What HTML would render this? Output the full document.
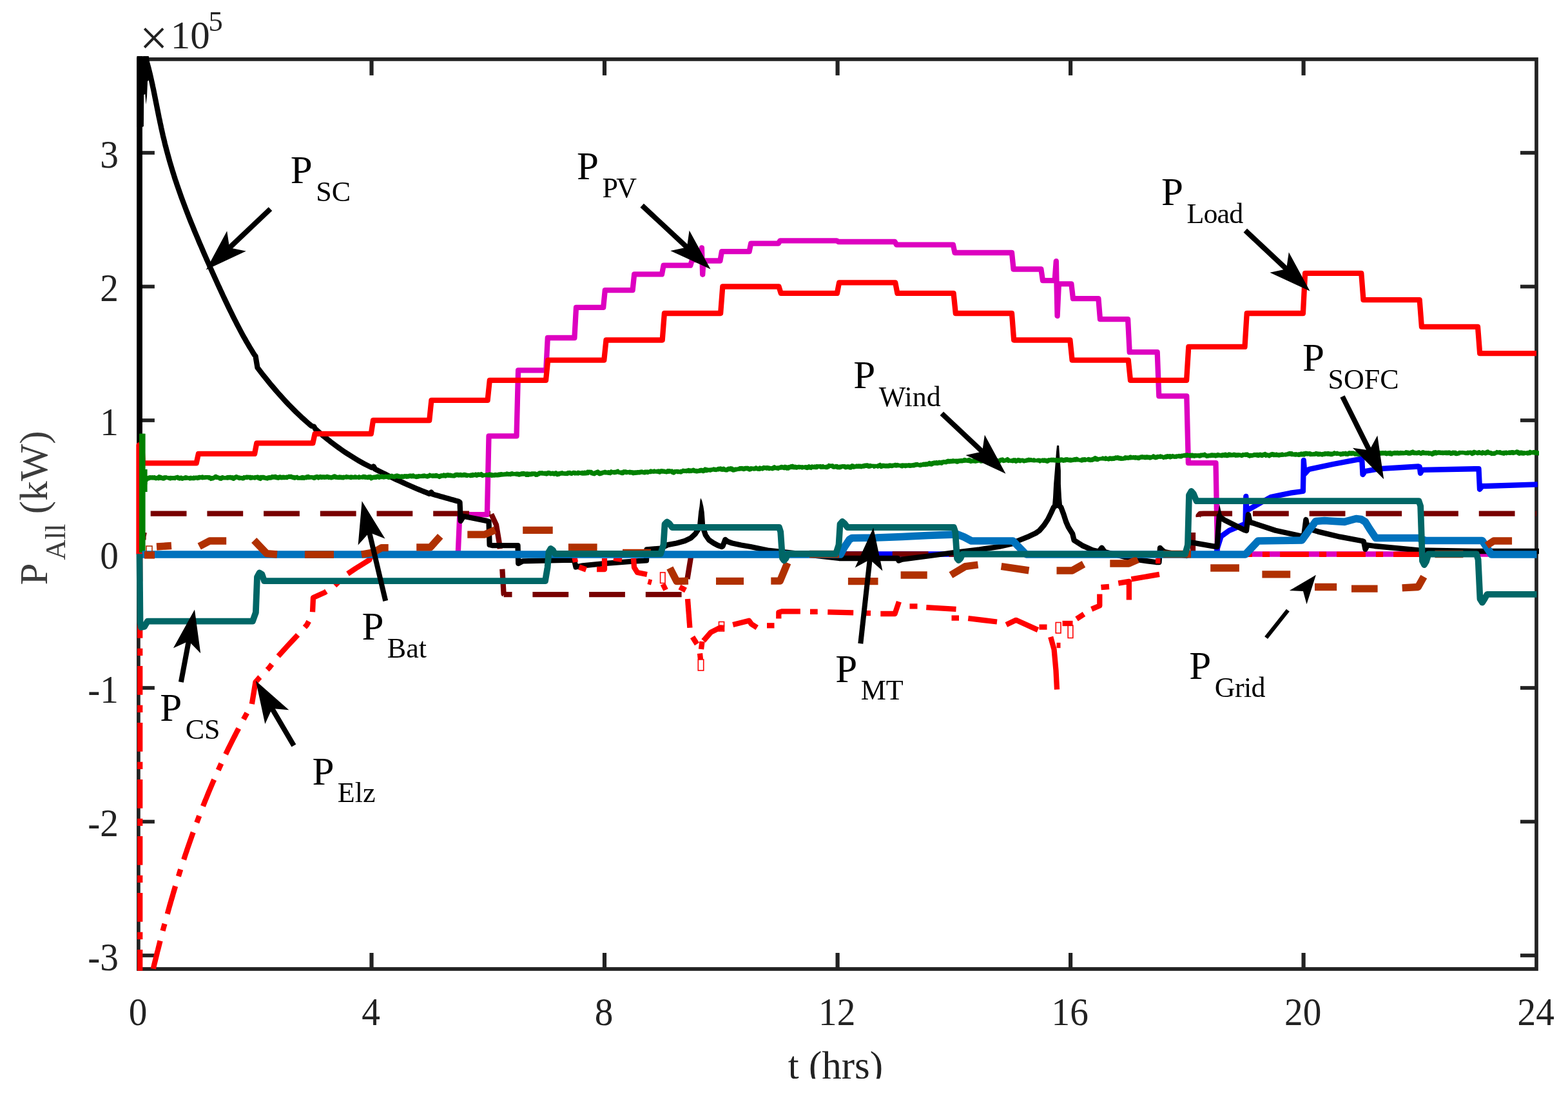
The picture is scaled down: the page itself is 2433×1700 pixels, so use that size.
<!DOCTYPE html>
<html><head><meta charset="utf-8"><title>Power plot</title>
<style>
html,body{margin:0;padding:0;background:#fff;}
body{width:2433px;height:1700px;overflow:hidden;}
svg{display:block;}
svg text{font-family:"Liberation Serif","Times New Roman",serif;}
</style></head><body>
<svg width="2433" height="1700" viewBox="0 0 2433 1700">
<rect width="2433" height="1700" fill="#fff"/>
<g id="axes">
<rect x="214.9" y="91.9" width="2169.1" height="1411.1" fill="none" stroke="#222222" stroke-width="5.7"/>
<line x1="576.5" y1="1503.0" x2="576.5" y2="1478.0" stroke="#222222" stroke-width="6.2"/>
<line x1="576.5" y1="91.9" x2="576.5" y2="116.9" stroke="#222222" stroke-width="6.2"/>
<line x1="938.0" y1="1503.0" x2="938.0" y2="1478.0" stroke="#222222" stroke-width="6.2"/>
<line x1="938.0" y1="91.9" x2="938.0" y2="116.9" stroke="#222222" stroke-width="6.2"/>
<line x1="1299.6" y1="1503.0" x2="1299.6" y2="1478.0" stroke="#222222" stroke-width="6.2"/>
<line x1="1299.6" y1="91.9" x2="1299.6" y2="116.9" stroke="#222222" stroke-width="6.2"/>
<line x1="1661.1" y1="1503.0" x2="1661.1" y2="1478.0" stroke="#222222" stroke-width="6.2"/>
<line x1="1661.1" y1="91.9" x2="1661.1" y2="116.9" stroke="#222222" stroke-width="6.2"/>
<line x1="2022.6" y1="1503.0" x2="2022.6" y2="1478.0" stroke="#222222" stroke-width="6.2"/>
<line x1="2022.6" y1="91.9" x2="2022.6" y2="116.9" stroke="#222222" stroke-width="6.2"/>
<line x1="214.9" y1="1482.0" x2="239.9" y2="1482.0" stroke="#222222" stroke-width="5.7"/>
<line x1="2384.0" y1="1482.0" x2="2359.0" y2="1482.0" stroke="#222222" stroke-width="5.7"/>
<line x1="214.9" y1="1274.5" x2="239.9" y2="1274.5" stroke="#222222" stroke-width="5.7"/>
<line x1="2384.0" y1="1274.5" x2="2359.0" y2="1274.5" stroke="#222222" stroke-width="5.7"/>
<line x1="214.9" y1="1067.0" x2="239.9" y2="1067.0" stroke="#222222" stroke-width="5.7"/>
<line x1="2384.0" y1="1067.0" x2="2359.0" y2="1067.0" stroke="#222222" stroke-width="5.7"/>
<line x1="214.9" y1="859.5" x2="239.9" y2="859.5" stroke="#222222" stroke-width="5.7"/>
<line x1="2384.0" y1="859.5" x2="2359.0" y2="859.5" stroke="#222222" stroke-width="5.7"/>
<line x1="214.9" y1="652.0" x2="239.9" y2="652.0" stroke="#222222" stroke-width="5.7"/>
<line x1="2384.0" y1="652.0" x2="2359.0" y2="652.0" stroke="#222222" stroke-width="5.7"/>
<line x1="214.9" y1="444.5" x2="239.9" y2="444.5" stroke="#222222" stroke-width="5.7"/>
<line x1="2384.0" y1="444.5" x2="2359.0" y2="444.5" stroke="#222222" stroke-width="5.7"/>
<line x1="214.9" y1="237.0" x2="239.9" y2="237.0" stroke="#222222" stroke-width="5.7"/>
<line x1="2384.0" y1="237.0" x2="2359.0" y2="237.0" stroke="#222222" stroke-width="5.7"/>
</g>
<clipPath id="c"><rect x="209" y="87.2" width="2179" height="1418.6"/></clipPath>
<clipPath id="cx"><rect x="0" y="1500" width="2433" height="173.3"/></clipPath>
<g id="curves" clip-path="url(#c)">
<path d="M214.9 859.5L710.7 859.5L713.3 798.1L755.9 798.1L758.5 676.3L801.5 676.3L804.1 574.4L847.2 574.4L849.8 524.0L891.4 524.0L894.0 476.9L936.2 476.9L938.8 450.1L981.6 450.1L984.2 425.4L1027.0 425.4L1029.6 411.7L1071.3 411.7L1073.9 403.0L1087.1 403.0L1088.9 384.3L1090.2 425.8L1091.6 404.5L1117.4 404.5L1120.0 390.1L1162.6 390.1L1165.2 377.7L1207.8 377.7L1210.4 373.3L1298.2 373.3L1300.8 375.0L1388.5 375.0L1391.1 379.6L1478.9 379.6L1481.5 392.0L1570.0 392.0L1572.6 417.5L1615.4 417.5L1618.0 435.2L1636.6 435.2L1638.8 405.1L1640.6 490.1L1642.9 440.4L1662.4 440.4L1665.0 463.2L1704.4 463.2L1707.0 495.1L1750.1 495.1L1752.7 546.2L1795.7 546.2L1798.3 614.4L1841.3 614.4L1843.9 718.2L1886.5 718.2L1889.1 859.5L2384.0 859.5" fill="none" stroke="#dd00c0" stroke-width="8.3" stroke-linejoin="round"/>
<path d="M218.9 859.5L1887.0 859.5L1889.0 850.0L1894.8 831.8L1907.4 822.8L1928.9 813.9L1932.5 812.0L1933.3 770.0L1934.5 792.0L1943.2 787.1L1971.8 771.0L2002.2 764.7L2021.9 762.0L2022.8 714.0L2024.5 735.0L2030.9 728.0L2068.4 720.0L2111.4 711.9L2113.2 712.0L2114.5 736.0L2118.0 731.0L2140.0 727.1L2200.9 723.5L2202.7 724.0L2204.0 734.0L2206.9 728.9L2294.5 727.1L2296.0 759.0L2300.0 754.0L2305.3 754.0L2385.8 751.3" fill="none" stroke="#0000ff" stroke-width="8.3" stroke-linejoin="round"/>
<path d="M222.0 859.5L222.5 832.0L224.5 822.0" fill="none" stroke="#780000" stroke-width="8.3" stroke-linejoin="round" stroke-dasharray="12 30" stroke-dashoffset="-22.0"/>
<path d="M233.7 796.6L761.0 796.6" fill="none" stroke="#780000" stroke-width="8.3" stroke-linejoin="round" stroke-dasharray="55.8 31.9"/>
<path d="M762.3 797.5L770.0 814.0L774.5 840.7L779.0 877.4L781.6 921.3L782.5 922.2" fill="none" stroke="#780000" stroke-width="8.3" stroke-linejoin="round" stroke-dasharray="55.8 31.9"/>
<path d="M781.6 922.2L1063.0 922.2" fill="none" stroke="#780000" stroke-width="8.3" stroke-linejoin="round" stroke-dasharray="55.8 31.9" stroke-dashoffset="42.9"/>
<path d="M1066.5 898.0L1072.0 864.0L1075.0 859.5" fill="none" stroke="#780000" stroke-width="8.3" stroke-linejoin="round"/>
<path d="M1075.0 859.5L1851.0 859.5" fill="none" stroke="#780000" stroke-width="8.3" stroke-linejoin="round" stroke-dasharray="55.8 31.9" stroke-dashoffset="41.1"/>
<path d="M1851.0 859.5L1851.0 826.0" fill="none" stroke="#780000" stroke-width="8.3" stroke-linejoin="round"/>
<path d="M1860.0 806.0L1859.5 800.0L1862.0 797.0L1868.0 796.6L2384.0 796.6" fill="none" stroke="#780000" stroke-width="8.3" stroke-linejoin="round" stroke-dasharray="55.8 31.9" stroke-dashoffset="-4.2"/>
<path d="M216.8 859.5L216.8 60.0L223.0 60.0L227.3 94.4L228.5 98.4L229.6 102.4L230.7 106.4L231.7 110.4L232.7 114.4L233.6 118.4L234.5 122.4L235.4 126.4L236.3 130.4L237.1 134.4L238.0 138.4L238.8 142.4L239.6 146.4L240.4 150.4L241.2 154.4L242.0 158.4L242.8 162.4L243.6 166.4L244.4 170.4L245.2 174.4L246.0 178.4L246.8 182.4L247.7 186.4L248.5 190.4L249.4 194.4L250.2 198.4L251.1 202.4L252.0 206.4L252.9 210.4L253.9 214.4L254.9 218.4L255.8 222.4L256.8 226.4L257.9 230.4L258.9 234.4L260.0 238.4L261.1 242.4L262.2 246.4L263.3 250.4L264.5 254.4L265.7 258.4L266.9 262.4L268.1 266.4L269.4 270.4L270.6 274.4L271.9 278.4L273.3 282.4L274.6 286.4L276.0 290.4L277.4 294.4L278.8 298.4L280.2 302.4L281.6 306.4L283.1 310.4L284.6 314.4L286.1 318.4L287.6 322.4L289.1 326.4L290.7 330.4L292.2 334.4L293.8 338.4L295.4 342.4L297.0 346.4L298.7 350.4L300.3 354.4L301.9 358.4L303.6 362.4L305.3 366.4L307.0 370.4L308.6 374.4L310.3 378.4L312.1 382.4L313.8 386.4L315.5 390.4L317.2 394.4L319.0 398.4L320.7 402.4L322.5 406.4L324.3 410.4L326.0 414.4L327.8 418.4L329.6 422.4L331.4 426.4L333.2 430.4L335.0 434.4L336.8 438.4L338.6 442.4L340.5 446.4L342.3 450.4L344.2 454.4L346.0 458.4L347.9 462.4L349.8 466.4L351.7 470.4L353.6 474.4L355.5 478.4L357.5 482.4L359.5 486.4L361.4 490.4L363.4 494.4L365.5 498.4L367.5 502.4L369.6 506.4L371.7 510.4L373.8 514.4L376.0 518.4L378.2 522.4L380.5 526.4L382.7 530.4L385.1 534.4L387.4 538.4L389.9 542.4L392.3 546.4L394.9 550.4L396.5 552.5L399.5 570.3L403.5 575.5L407.5 580.7L411.5 585.7L415.5 590.7L419.5 595.6L423.5 600.3L427.5 605.0L431.5 609.6L435.5 614.1L439.5 618.5L443.5 622.8L447.5 627.1L451.5 631.2L455.5 635.2L459.5 639.2L463.5 643.0L467.5 646.8L471.5 650.4L475.5 654.0L479.5 657.5L483.5 660.8L487.0 661.5L489.0 665.1L493.0 668.7L497.0 672.1L501.0 675.5L505.0 678.8L509.0 682.0L513.0 685.2L517.0 688.2L521.0 691.2L525.0 694.1L529.0 697.0L533.0 699.8L537.0 702.5L541.0 705.1L545.0 707.6L549.0 710.1L553.0 712.5L557.0 714.8L561.0 717.1L565.0 719.3L569.0 721.4L573.0 723.4L577.0 725.4L579.6 723.5L582.0 727.5L586.0 729.6L590.0 731.6L594.0 733.7L598.0 735.6L602.0 737.6L606.0 739.6L610.0 741.5L614.0 743.4L618.0 745.2L622.0 747.1L626.0 748.9L630.0 750.7L634.0 752.5L638.0 754.2L642.0 756.0L646.0 757.7L650.0 759.3L654.0 761.0L658.0 762.6L662.0 764.2L666.0 765.8L669.1 763.5L671.5 766.6L675.5 767.7L679.5 768.8L683.5 770.0L687.5 771.1L691.5 772.2L695.5 773.3L699.5 774.5L703.5 775.6L707.5 776.7L711.5 777.8L713.5 779.0L714.7 808.0L719.2 800.7L755.0 807.9L758.5 809.0L759.6 845.0L764.6 846.1L803.5 846.1L804.2 874.0L811.2 870.3L886.3 868.5L891.0 869.0L893.5 879.5L904.2 877.4L940.0 873.9L975.8 871.2L1003.0 869.4L1003.5 852.4L1025.0 850.6L1035.8 845.2L1050.0 842.5L1062.6 839.0L1072.0 834.5L1078.7 828.2L1083.5 821.0L1088.0 817.0L1092.0 821.5L1094.8 830.0L1100.0 837.5L1107.4 842.5L1114.0 846.0L1120.0 848.0L1121.5 847.0L1125.3 837.0L1129.0 840.0L1136.0 842.5L1150.0 845.5L1164.6 848.0L1193.3 854.0L1250.0 860.0L1302.0 866.0L1393.0 866.0L1394.5 869.5L1400.0 867.6L1440.0 862.5L1480.5 857.0L1520.0 852.3L1550.0 848.0L1570.0 843.5L1579.0 839.0L1596.9 831.8L1607.0 827.0L1613.0 822.8L1620.1 814.5L1626.0 805.5L1630.9 795.5L1634.8 787.0L1640.6 782.0L1646.4 787.0L1650.5 798.0L1654.0 809.0L1657.7 817.5L1664.2 828.0L1666.6 838.0L1679.2 846.1L1695.3 853.3L1705.0 855.5L1709.6 849.7L1714.0 856.0L1745.7 864.0L1766.9 868.5L1793.7 872.0L1798.5 872.0L1800.0 850.0L1803.0 853.0L1807.0 856.0L1830.0 860.5L1841.0 862.0L1843.0 842.0L1850.1 841.6L1885.9 847.9L1888.5 848.0L1891.8 800.0L1894.5 803.0L1900.2 806.7L1930.6 822.0L1934.0 823.0L1936.9 798.0L1939.5 810.0L1946.7 812.1L1979.0 822.8L2020.1 831.8L2023.0 832.0L2026.4 806.0L2029.0 819.0L2033.0 821.0L2045.2 824.6L2079.2 832.7L2113.2 839.0L2116.0 840.0L2118.5 852.0L2122.0 845.5L2132.9 847.0L2200.9 853.3L2293.6 855.0L2388.0 855.0" fill="none" stroke="#000" stroke-width="8.3" stroke-linejoin="round"/>
<polygon points="212.5,86.8 218.0,85.8 221.0,87.0 224.5,85.8 230.8,87.3 231.6,94.4 233.0,112.0 236.0,120.0 229.0,126.0 228.0,150.0 226.4,162.0 225.2,146.0 223.3,147.0 222.9,196.0 221.0,197.0 216.0,197.0 212.5,197.0" fill="#000"/>
<polygon points="1081.8,818.0 1082.3,812.0 1083.2,803.0 1084.1,794.0 1085.5,785.3 1086.4,776.3 1087.2,772.4 1089.1,776.3 1091.3,785.3 1092.7,794.2 1093.4,803.2 1094.0,812.1 1094.5,818.0" fill="#000"/>
<polygon points="1632.8,786.0 1634.0,771.7 1635.1,750.8 1636.8,729.8 1638.9,701.9 1640.0,691.1 1643.1,691.1 1643.8,701.9 1645.9,729.8 1645.9,750.8 1647.0,771.7 1648.3,786.0" fill="#000"/>
<polygon points="1887.0,812.0 1892.2,782.5 1897.5,806.0" fill="#000"/>
<polygon points="1932.0,820.0 1936.9,795.0 1942.0,812.0" fill="#000"/>
<polygon points="2021.5,828.0 2026.4,803.0 2031.5,820.0" fill="#000"/>
<path d="M215.5 859.5L215.5 690.4L220.0 690.4L222.0 718.4L304.7 718.4L307.9 703.9L395.1 703.9L398.3 687.3L485.4 687.3L488.6 672.8L575.8 672.8L579.0 652.0L666.2 652.0L669.4 620.9L756.6 620.9L759.8 589.8L847.0 589.8L850.2 558.6L937.3 558.6L940.5 527.5L1027.7 527.5L1030.9 486.0L1118.1 486.0L1121.3 444.5L1208.5 444.5L1211.7 454.9L1298.9 454.9L1302.1 438.3L1389.2 438.3L1392.4 454.9L1479.6 454.9L1482.8 486.0L1570.0 486.0L1573.2 527.5L1660.4 527.5L1663.6 558.6L1750.8 558.6L1754.0 589.8L1841.1 589.8L1844.3 537.9L1931.5 537.9L1934.7 486.0L2021.9 486.0L2025.1 423.8L2112.3 423.8L2115.5 465.2L2202.7 465.2L2205.9 506.8L2293.0 506.8L2296.2 548.2L2384.0 548.2" fill="none" stroke="#ff0000" stroke-width="8.3" stroke-linejoin="round"/>
<path d="M220.5 859.5L220.5 672.8L221.0 753.6L221.6 759.5L222.2 739.2L222.8 758.0L223.4 742.9L224.0 746.6L224.6 751.2L225.2 742.6L225.8 746.5L226.4 742.2L227.0 741.8L228.1 741.6L229.6 741.9L230.9 741.8L232.5 740.6L234.0 741.0L234.9 741.8L235.8 740.8L236.7 740.8L237.6 742.9L238.9 740.8L240.1 740.7L241.0 741.9L242.3 741.6L243.5 740.9L244.6 742.4L245.7 741.7L246.7 740.0L247.9 739.5L249.3 741.0L250.3 741.8L251.5 741.2L252.9 741.9L253.7 742.1L255.1 741.4L256.6 740.1L257.6 740.9L258.9 740.1L260.0 742.4L261.2 739.4L262.5 742.6L263.9 741.8L265.5 741.6L266.6 740.6L267.9 742.2L268.8 741.4L269.7 742.7L270.6 741.8L271.6 739.8L272.5 742.4L273.7 739.4L275.1 740.6L276.6 741.0L277.7 742.1L279.2 741.7L280.1 741.1L281.1 741.3L282.4 742.2L283.4 742.1L284.5 741.2L285.7 742.5L287.0 740.8L288.3 741.0L289.8 740.9L291.2 742.3L292.3 740.0L293.4 742.2L294.3 741.9L295.1 741.3L296.2 741.6L297.0 741.6L297.9 741.1L299.0 742.9L300.3 741.4L301.2 741.1L302.3 741.9L303.2 742.7L304.4 738.8L305.6 741.4L306.7 741.3L307.7 741.3L308.5 740.6L310.0 740.6L311.3 741.0L312.1 738.6L313.6 740.6L315.0 741.0L315.9 741.9L317.3 739.5L318.4 740.7L319.3 742.0L320.8 738.6L322.3 741.6L323.3 739.7L324.5 740.9L325.3 741.2L326.3 740.9L327.9 742.4L329.0 743.5L330.6 740.0L331.7 741.1L332.6 741.6L333.6 739.6L335.1 739.6L336.3 740.0L337.1 739.6L338.5 742.3L339.9 740.1L341.0 741.6L342.1 742.4L343.6 741.8L344.7 740.8L346.2 740.8L347.1 740.4L348.1 742.3L349.0 740.0L350.4 742.2L351.5 740.7L352.8 741.0L354.3 741.0L355.6 738.8L356.8 740.5L358.3 741.2L359.3 740.3L360.3 740.9L361.3 742.1L362.5 742.2L363.6 742.3L364.7 739.2L365.9 739.9L367.4 739.7L368.6 740.8L369.4 740.3L370.2 741.0L371.7 741.3L373.0 741.7L374.3 740.3L375.5 741.8L377.0 741.7L378.0 741.5L379.0 740.9L380.2 739.7L381.6 741.6L382.9 740.3L384.1 739.4L385.3 740.7L386.5 738.6L387.9 741.0L389.4 741.4L390.6 740.5L392.2 741.0L393.1 740.3L394.2 741.3L395.1 741.0L396.4 741.1L397.4 738.8L398.7 740.4L400.2 740.3L401.8 741.1L402.9 742.9L404.1 742.4L405.0 740.6L406.2 739.9L407.1 740.6L408.2 740.6L409.4 740.5L410.6 741.5L411.9 740.7L413.1 743.0L414.5 741.7L416.1 741.2L416.9 741.1L418.4 740.6L419.5 741.1L421.0 740.9L422.0 740.0L423.5 739.3L424.4 740.0L425.2 740.2L426.1 739.7L427.6 739.5L428.5 739.4L430.0 742.2L431.1 741.3L432.2 738.6L433.2 739.9L434.1 739.9L435.0 740.4L435.9 741.1L437.0 740.7L438.0 740.6L439.2 739.8L440.2 740.4L441.2 740.7L442.0 740.4L442.9 739.4L444.1 740.9L445.6 740.3L446.7 738.8L447.8 740.6L449.0 739.5L450.1 738.1L451.6 740.1L452.7 739.3L453.8 740.9L454.6 740.6L456.0 740.5L456.9 741.0L458.4 741.4L459.4 739.5L460.4 740.2L461.3 741.4L462.5 740.3L464.1 742.7L465.3 740.5L466.3 742.8L467.4 741.3L468.6 740.4L469.8 740.7L470.6 741.4L471.6 741.2L472.5 740.9L473.3 740.2L474.5 741.0L475.8 740.4L477.1 739.1L478.6 739.8L480.2 740.9L481.1 740.2L482.0 739.1L483.5 741.3L484.8 739.6L486.3 741.1L487.5 741.2L489.0 740.9L490.2 738.7L491.7 739.8L492.7 739.1L493.5 740.9L494.4 740.9L495.9 739.1L497.2 739.8L498.5 740.2L500.0 740.3L501.4 739.2L502.7 740.3L503.6 740.2L504.4 739.6L505.4 740.2L506.8 739.7L508.4 739.4L509.6 740.3L510.9 740.4L512.3 739.0L513.1 740.7L514.5 740.8L515.6 740.1L516.4 740.2L517.4 739.6L518.8 739.0L519.8 739.2L521.0 740.1L521.9 740.7L523.4 739.8L525.0 741.2L526.4 740.3L528.0 739.5L529.0 740.4L530.5 740.5L531.5 741.3L532.7 740.6L534.1 740.0L535.3 741.2L536.3 739.2L537.8 739.9L538.6 740.2L539.8 739.4L540.8 740.4L541.8 739.4L542.6 741.7L544.0 740.4L545.6 739.7L546.9 740.7L548.0 739.7L549.2 741.3L550.2 740.1L551.4 740.0L552.3 740.4L553.7 739.6L554.7 742.1L555.7 739.5L556.8 740.0L558.4 741.3L559.7 739.0L561.2 741.1L562.6 739.6L563.5 739.9L564.9 739.0L566.2 740.0L567.7 740.3L568.6 739.2L569.7 740.2L571.0 740.7L572.4 739.9L573.4 739.1L574.3 739.7L575.3 740.5L576.5 741.9L577.5 742.5L578.6 738.3L579.5 740.1L580.6 740.3L581.5 739.9L582.7 740.5L584.2 739.8L585.4 738.9L586.6 739.2L587.4 740.3L588.5 740.2L589.7 739.6L591.0 740.1L592.0 739.2L593.0 738.9L594.5 740.2L596.0 739.7L596.8 739.4L598.2 740.4L599.5 738.9L600.3 737.9L601.7 740.8L603.2 740.1L604.1 739.3L605.0 738.1L606.6 739.2L608.0 738.4L609.1 738.1L610.4 740.8L611.4 739.7L612.9 738.8L613.8 738.6L614.8 738.3L615.7 738.1L616.5 738.0L617.7 739.0L618.6 739.0L619.7 739.0L620.8 740.3L622.4 738.7L623.5 739.1L625.1 739.7L626.5 738.9L627.7 739.1L629.0 738.3L630.3 739.2L631.9 738.9L633.0 739.1L634.1 738.6L635.5 738.3L636.9 738.2L638.5 738.7L639.5 739.0L640.5 738.1L641.9 738.1L643.1 740.8L644.1 738.8L645.4 739.5L647.0 739.1L647.9 739.3L649.5 738.7L650.4 738.7L651.5 740.0L652.9 737.3L654.5 739.2L655.4 738.1L657.0 738.4L658.3 738.1L659.4 737.8L660.3 738.9L661.1 738.1L662.7 739.1L663.6 738.8L664.7 738.1L666.1 738.6L667.0 737.3L668.2 736.7L669.1 739.6L670.2 738.3L671.3 738.0L672.8 738.1L673.6 737.8L674.5 738.6L675.9 737.7L677.4 737.6L678.9 738.5L680.2 737.8L681.3 739.3L682.3 739.4L683.8 737.9L685.1 738.0L686.1 737.7L687.3 739.9L688.4 737.2L689.4 736.8L691.0 738.1L691.9 738.2L693.4 736.3L694.8 737.0L695.8 737.1L696.9 737.7L697.9 737.2L699.3 737.5L700.1 737.8L701.4 736.3L702.9 739.7L704.5 737.4L705.3 737.8L706.5 737.1L707.5 736.4L708.7 736.4L710.1 736.4L711.5 737.1L713.0 736.9L714.0 736.4L715.4 736.9L716.4 737.2L717.3 737.9L718.8 736.4L719.9 736.7L721.5 736.4L723.0 737.0L724.3 737.5L725.5 737.0L726.9 738.1L727.8 735.3L728.8 737.4L730.4 737.3L731.6 737.7L733.1 736.5L734.3 736.7L735.9 738.4L736.7 735.8L737.7 736.1L738.8 737.1L739.8 737.2L741.1 736.4L741.9 736.2L743.0 736.4L744.0 736.1L745.0 736.9L745.8 735.5L746.7 735.7L748.0 737.3L748.9 737.3L750.0 737.7L751.0 735.7L752.1 738.6L753.4 735.9L754.8 737.2L756.4 736.0L757.8 736.8L758.8 738.3L759.9 736.4L761.4 734.8L762.6 737.3L763.5 737.4L764.8 736.3L766.3 737.3L767.4 736.8L768.6 736.6L769.8 736.7L771.4 736.9L772.8 736.7L774.4 736.2L775.9 736.5L777.5 735.7L779.1 736.0L780.2 737.0L781.6 735.2L782.6 736.0L783.7 735.2L785.2 736.1L786.1 735.3L787.3 734.9L788.2 735.7L789.2 735.4L790.0 733.8L791.2 735.7L792.7 735.4L793.6 734.7L794.9 735.0L796.0 734.6L797.1 736.2L798.4 734.6L799.2 735.9L800.5 734.9L801.9 735.5L803.4 734.9L804.5 735.6L805.4 736.1L806.3 736.1L807.5 735.1L808.8 735.3L809.6 735.2L810.8 733.8L811.7 734.4L813.3 735.2L814.2 737.1L815.5 732.9L817.0 736.1L818.2 737.6L819.8 735.6L821.2 734.8L822.7 735.8L824.1 735.4L825.1 735.6L826.5 734.6L827.4 733.0L828.4 734.9L829.4 734.2L830.2 734.9L831.2 736.0L832.5 736.7L834.0 735.6L834.9 736.2L836.2 734.3L837.7 734.1L838.9 733.1L839.8 733.8L841.4 734.1L842.8 734.0L843.8 735.8L844.9 734.6L846.3 734.1L847.7 734.8L848.6 734.9L849.9 733.9L851.5 733.4L852.5 733.8L853.3 735.0L854.6 734.6L855.8 732.5L856.7 734.3L857.6 734.3L858.4 734.3L859.5 735.1L860.5 734.9L861.8 733.8L863.1 734.0L864.3 735.7L865.2 735.9L866.2 735.3L867.7 735.0L869.1 733.7L869.9 734.6L871.2 733.4L872.5 733.9L873.7 735.5L874.7 733.6L876.2 735.2L877.3 734.4L878.3 735.6L879.1 734.6L880.4 734.5L881.3 733.9L882.6 732.7L884.1 733.9L885.0 733.7L885.8 734.7L887.4 734.2L888.2 732.5L889.6 733.9L891.0 732.9L892.2 733.9L893.2 734.3L894.0 733.1L895.4 735.1L896.8 733.6L898.1 733.1L899.2 734.0L900.2 732.7L901.6 734.3L903.1 733.6L903.9 733.6L905.3 734.3L906.8 733.6L908.3 732.8L909.4 733.7L910.7 735.5L912.1 732.3L913.2 731.4L914.7 732.9L915.9 731.8L917.2 732.8L918.2 733.1L919.5 735.2L920.4 734.3L921.2 735.0L922.3 734.7L923.2 733.6L924.6 733.4L925.9 732.8L926.7 731.9L928.0 732.2L929.5 734.5L931.0 734.9L932.5 733.9L934.1 733.7L935.0 733.6L935.8 734.1L937.1 731.8L938.6 732.6L939.4 732.6L940.3 733.1L941.4 732.5L942.5 733.7L943.5 733.1L944.9 732.5L946.5 733.6L947.7 733.7L948.5 732.0L949.6 731.5L950.7 733.5L952.1 732.3L953.6 732.7L954.4 733.1L955.2 732.4L956.2 733.0L957.0 730.3L958.2 731.2L959.1 732.9L960.3 731.8L961.3 734.1L962.9 732.6L964.3 733.3L965.5 733.7L966.3 733.5L967.8 732.1L969.1 731.1L970.1 731.9L971.7 733.1L972.5 732.7L973.5 732.4L974.5 733.4L975.6 731.9L977.1 732.6L978.3 733.5L979.7 732.5L980.8 731.1L981.9 733.4L983.2 733.8L984.6 732.9L986.0 733.2L987.3 733.0L988.8 733.0L989.8 732.6L991.1 733.0L992.6 732.5L993.6 732.7L994.7 731.7L995.7 732.1L996.7 733.6L997.6 731.9L999.1 732.9L1000.7 732.7L1002.2 732.0L1003.1 731.1L1004.4 732.5L1005.5 732.4L1006.4 730.8L1007.7 733.0L1008.9 731.3L1009.8 731.2L1011.1 730.7L1012.6 732.8L1013.8 730.6L1014.9 731.2L1015.9 731.6L1017.3 730.0L1018.7 732.6L1020.0 730.7L1021.2 731.3L1022.0 732.9L1023.2 732.0L1024.5 730.3L1025.5 730.8L1026.8 732.2L1027.9 730.7L1028.9 729.8L1030.2 731.8L1031.4 730.7L1033.0 732.6L1033.9 731.7L1035.3 732.4L1036.2 731.0L1037.4 730.0L1038.7 730.9L1040.0 731.8L1041.1 730.3L1042.7 731.5L1043.8 732.5L1045.2 732.9L1046.3 732.8L1047.1 730.9L1047.9 731.9L1049.1 729.7L1050.1 731.6L1051.1 731.1L1052.7 732.3L1053.9 731.1L1055.0 732.3L1056.0 731.8L1057.5 731.8L1058.8 729.5L1059.7 730.8L1061.3 729.7L1062.8 731.5L1064.2 729.7L1065.5 730.5L1066.4 730.7L1067.8 729.5L1068.9 729.7L1070.0 730.7L1070.9 731.6L1072.0 730.2L1073.0 729.8L1074.1 731.0L1075.4 729.5L1077.0 729.2L1078.4 731.5L1080.0 730.4L1081.4 730.9L1082.7 731.1L1083.5 731.9L1084.8 729.8L1085.8 730.0L1086.8 729.9L1088.2 729.3L1089.8 729.9L1091.2 730.4L1092.5 731.0L1093.9 728.4L1095.3 727.6L1096.8 729.7L1098.0 730.5L1099.4 727.4L1100.7 729.8L1101.7 729.1L1102.9 729.5L1103.7 728.5L1104.9 729.1L1106.1 727.2L1106.9 728.4L1108.4 727.7L1109.7 729.0L1111.2 728.1L1112.8 729.3L1113.6 727.8L1114.5 727.6L1115.7 727.7L1116.8 726.6L1118.4 727.4L1119.9 728.4L1120.7 728.1L1121.8 727.1L1123.3 727.6L1124.5 729.0L1125.9 728.4L1127.1 729.1L1128.3 728.5L1129.8 727.4L1130.9 727.3L1132.1 728.0L1133.7 727.0L1134.8 726.6L1135.8 727.5L1137.1 728.9L1138.5 729.2L1140.1 728.1L1141.3 728.4L1142.1 727.9L1143.0 728.7L1144.4 727.0L1145.8 728.5L1147.1 726.8L1148.4 727.0L1149.7 726.2L1150.7 726.8L1152.1 726.4L1153.0 727.3L1154.4 727.4L1156.0 726.7L1157.4 726.4L1158.8 726.4L1159.9 726.7L1161.0 726.6L1162.3 727.8L1163.9 728.0L1164.7 727.2L1165.6 727.2L1167.1 725.6L1168.3 727.6L1169.6 726.7L1171.1 727.6L1172.3 726.4L1173.1 726.1L1174.1 726.0L1174.9 727.8L1175.8 726.5L1177.3 727.9L1178.2 727.3L1179.1 726.2L1180.4 725.6L1181.4 727.7L1182.8 726.7L1184.2 726.1L1185.6 725.7L1186.9 724.0L1187.9 726.5L1189.5 725.9L1190.3 725.8L1191.6 726.0L1192.7 725.5L1194.1 726.7L1195.2 727.3L1196.1 724.9L1197.2 726.5L1198.6 726.6L1199.7 726.9L1201.0 724.9L1202.1 724.8L1203.5 726.9L1204.8 724.9L1205.8 727.6L1207.2 726.2L1208.6 724.7L1210.2 726.3L1211.7 724.6L1212.8 724.7L1214.3 724.2L1215.6 726.1L1217.1 725.4L1217.9 724.4L1219.0 724.0L1220.4 725.6L1221.9 726.7L1223.4 725.5L1224.9 724.3L1226.3 724.6L1227.8 724.1L1228.9 723.1L1229.7 723.4L1230.7 724.3L1232.1 725.5L1233.4 724.6L1234.7 724.2L1235.7 724.9L1237.1 725.0L1238.0 723.8L1239.4 724.8L1240.7 724.1L1242.2 725.5L1243.4 723.9L1244.7 724.9L1245.6 725.2L1247.0 723.8L1248.1 725.5L1249.3 724.7L1250.9 724.8L1252.0 725.5L1253.4 725.3L1254.4 723.8L1255.6 724.0L1256.4 727.1L1257.9 725.0L1259.1 723.8L1260.5 724.1L1261.6 725.8L1263.1 723.8L1264.7 724.3L1265.6 724.5L1266.6 724.5L1267.8 724.4L1269.3 722.1L1270.8 724.8L1271.7 723.4L1272.6 723.6L1274.2 724.1L1275.5 725.3L1277.0 723.7L1278.2 723.3L1279.1 726.8L1280.1 723.4L1280.9 724.0L1282.5 724.8L1284.0 724.1L1285.4 723.7L1286.8 722.3L1287.6 721.8L1288.5 724.0L1289.9 721.7L1290.9 722.6L1291.8 723.0L1292.9 723.8L1294.0 724.3L1295.0 723.8L1296.3 724.3L1297.1 723.6L1298.0 723.2L1299.5 724.1L1301.0 725.8L1302.5 724.3L1303.4 724.4L1304.9 724.3L1306.1 722.5L1307.2 724.0L1308.5 722.6L1309.4 723.6L1310.7 723.8L1312.0 724.6L1313.0 724.9L1314.1 723.9L1315.6 724.0L1316.7 723.9L1317.7 724.3L1319.3 725.3L1320.1 725.0L1321.6 723.0L1322.8 722.8L1323.8 723.3L1324.9 723.9L1326.5 725.3L1327.4 723.2L1328.4 723.5L1329.8 723.0L1330.8 723.3L1332.3 723.1L1333.4 723.2L1334.8 723.2L1336.0 723.5L1337.6 724.0L1338.5 722.6L1339.5 722.8L1340.9 722.9L1341.8 722.4L1342.6 722.2L1343.7 722.3L1344.6 721.9L1346.1 722.0L1347.3 723.0L1348.7 723.2L1349.8 722.8L1351.3 722.5L1352.4 723.8L1353.6 721.3L1354.4 723.6L1355.9 722.2L1356.9 723.4L1358.0 724.3L1358.9 721.9L1359.7 723.6L1360.9 721.6L1361.8 723.0L1363.2 723.4L1364.3 721.0L1365.6 721.5L1366.5 723.6L1368.0 723.6L1369.2 722.2L1370.4 722.3L1372.0 722.4L1373.0 722.6L1374.0 722.8L1375.4 722.8L1376.8 722.5L1377.7 723.6L1379.0 722.5L1380.2 722.2L1381.7 721.9L1383.1 722.7L1384.3 722.4L1385.5 722.2L1386.6 722.7L1387.5 720.7L1388.4 721.2L1389.7 722.2L1391.1 721.6L1392.7 721.4L1394.2 722.7L1395.4 720.4L1396.8 723.4L1397.9 722.1L1399.0 722.8L1400.6 722.7L1402.1 720.1L1403.5 723.0L1405.1 722.3L1406.7 721.9L1408.0 722.8L1409.1 721.5L1410.2 721.8L1411.4 722.3L1413.0 721.9L1414.4 722.9L1415.8 721.2L1417.4 721.9L1418.7 721.4L1419.7 721.1L1420.9 720.7L1422.5 720.7L1423.7 720.6L1424.8 721.7L1425.9 720.6L1427.2 721.6L1428.7 721.4L1430.0 720.3L1431.2 721.3L1432.1 720.6L1433.1 720.5L1434.3 719.9L1435.1 720.6L1436.4 720.5L1437.6 718.7L1438.9 720.0L1440.1 720.8L1441.4 718.6L1442.4 718.6L1443.4 719.3L1444.5 720.1L1445.8 719.7L1447.3 718.8L1448.2 717.7L1449.3 718.2L1450.9 718.0L1451.8 719.8L1452.6 718.9L1453.5 717.5L1454.6 716.7L1455.5 718.5L1456.5 719.3L1457.4 717.4L1458.5 716.9L1459.8 718.6L1461.2 717.9L1462.6 716.3L1464.0 717.2L1465.5 716.0L1466.8 717.3L1468.3 716.5L1469.1 716.7L1470.3 715.3L1471.9 715.5L1473.3 715.8L1474.8 715.4L1476.0 715.4L1477.1 715.7L1478.3 715.0L1479.5 715.0L1480.9 716.0L1482.4 714.4L1483.4 715.2L1484.4 715.9L1485.7 715.9L1486.5 715.6L1488.0 714.4L1489.5 715.3L1490.6 714.5L1492.1 714.9L1493.4 714.7L1494.6 716.0L1495.8 713.9L1497.4 713.5L1498.8 714.5L1499.9 713.8L1501.0 715.5L1502.5 714.1L1503.4 713.6L1504.5 713.6L1505.8 715.2L1507.3 715.6L1508.4 714.3L1509.7 715.4L1510.9 714.5L1512.4 714.9L1514.0 715.2L1515.4 714.1L1517.0 714.5L1518.3 715.7L1519.8 712.0L1521.0 714.9L1522.2 715.1L1523.4 714.7L1524.7 715.0L1526.0 712.7L1527.3 716.7L1528.1 713.1L1529.1 715.3L1530.5 715.2L1532.0 714.4L1533.2 714.1L1534.4 713.9L1535.7 714.3L1536.9 715.7L1538.5 713.5L1539.4 713.9L1540.3 714.4L1541.2 713.9L1542.1 712.7L1543.4 714.1L1544.9 714.5L1546.3 714.4L1547.4 714.1L1548.3 713.5L1549.3 715.9L1550.6 715.4L1551.6 713.4L1552.5 714.6L1554.0 712.3L1555.2 713.1L1556.5 714.3L1558.0 714.5L1559.5 713.5L1560.9 716.0L1562.0 712.4L1563.2 712.8L1564.7 714.2L1566.1 715.1L1567.1 713.5L1568.3 715.9L1569.7 714.2L1570.8 714.7L1571.7 714.9L1573.0 714.0L1573.9 713.3L1575.0 714.0L1575.9 715.3L1576.9 715.3L1577.9 714.4L1578.9 714.8L1579.8 713.7L1580.7 713.4L1582.0 714.7L1583.5 714.5L1584.4 712.5L1585.9 714.7L1586.8 713.2L1587.9 715.2L1589.5 714.6L1590.7 716.2L1591.6 713.6L1593.0 714.2L1594.0 715.0L1595.1 713.3L1596.1 713.5L1597.6 713.6L1598.5 712.9L1599.5 713.9L1600.9 713.0L1602.2 714.9L1603.2 713.7L1604.2 714.2L1605.7 713.4L1606.5 715.2L1607.8 713.3L1608.8 714.8L1609.7 713.7L1610.6 714.5L1612.0 713.7L1613.5 714.8L1614.9 715.2L1615.8 712.7L1616.8 715.2L1618.2 714.1L1619.2 712.8L1620.6 714.6L1621.6 714.3L1622.9 713.2L1623.9 715.3L1625.2 715.2L1626.6 714.1L1627.5 713.9L1628.5 713.5L1629.3 714.7L1630.4 713.4L1631.8 713.4L1633.1 713.7L1634.3 713.1L1635.6 713.8L1637.1 713.8L1638.5 713.7L1640.0 714.0L1641.3 714.4L1642.1 713.9L1643.6 714.2L1645.0 715.7L1645.8 713.4L1647.2 712.9L1648.7 713.6L1650.3 714.1L1651.4 714.9L1652.8 713.1L1654.3 713.0L1655.1 713.0L1656.5 712.7L1658.0 714.1L1658.9 713.7L1660.3 713.4L1661.7 713.5L1663.3 714.7L1664.6 712.8L1665.4 713.3L1666.5 712.9L1667.6 713.7L1668.5 713.0L1669.5 712.0L1670.5 712.3L1672.0 713.1L1673.1 712.6L1674.0 714.9L1675.3 712.3L1676.5 714.5L1677.9 713.7L1679.2 714.1L1680.4 713.1L1681.3 711.2L1682.3 712.5L1683.1 713.3L1684.2 713.2L1685.3 714.1L1686.2 712.2L1687.3 713.6L1688.2 712.7L1689.8 712.6L1691.2 713.8L1692.8 713.2L1694.1 713.2L1695.2 713.0L1696.2 712.2L1697.7 712.2L1699.0 710.8L1700.3 710.7L1701.3 712.2L1702.2 712.6L1703.6 712.5L1704.5 711.4L1705.8 713.1L1706.8 710.2L1708.2 712.6L1709.3 710.6L1710.2 712.2L1711.3 711.1L1712.5 710.6L1713.5 712.9L1714.4 710.5L1715.8 711.1L1717.2 713.4L1718.4 710.3L1719.6 711.9L1720.8 712.1L1721.7 711.2L1722.9 710.9L1724.4 711.5L1725.6 711.4L1726.5 711.2L1728.0 711.1L1729.5 711.3L1730.5 710.2L1731.9 710.1L1732.9 710.9L1734.1 710.1L1735.6 709.4L1736.5 710.6L1737.8 711.7L1738.9 710.9L1739.9 711.1L1741.1 712.6L1742.6 710.3L1744.2 711.8L1745.6 710.2L1746.5 709.9L1747.5 709.3L1748.8 711.4L1750.1 710.1L1751.1 709.3L1751.9 711.8L1752.9 709.8L1753.8 709.3L1755.1 709.3L1756.2 711.0L1757.4 709.3L1758.3 709.7L1759.3 710.9L1760.2 709.3L1761.7 709.9L1762.9 710.3L1763.9 708.7L1764.9 709.9L1766.1 710.6L1767.4 710.4L1768.3 709.4L1769.4 709.8L1770.9 708.2L1772.3 709.1L1773.2 710.9L1774.1 709.4L1775.5 709.0L1777.1 709.7L1778.4 709.4L1779.8 708.8L1780.6 709.3L1781.4 710.1L1782.7 709.3L1784.1 709.8L1785.2 710.0L1786.7 708.2L1788.0 710.5L1788.9 708.0L1790.3 708.0L1791.6 710.1L1793.1 709.4L1794.5 709.3L1796.1 708.6L1797.3 708.4L1798.2 707.0L1799.1 708.1L1800.6 708.2L1801.6 707.8L1802.8 709.0L1803.6 707.4L1804.5 709.6L1805.4 709.4L1806.7 707.9L1807.8 709.6L1808.7 709.0L1810.0 707.4L1811.5 708.2L1812.5 708.0L1813.5 706.2L1814.9 708.0L1815.7 708.6L1817.1 709.4L1818.2 707.3L1819.7 707.9L1820.8 708.6L1821.6 706.8L1822.7 708.1L1824.0 709.5L1824.8 708.0L1826.0 708.3L1827.3 706.9L1828.1 708.0L1829.3 707.4L1830.5 707.6L1832.1 707.8L1833.4 707.4L1834.4 707.1L1835.4 708.3L1836.7 705.0L1838.3 706.7L1839.1 705.6L1840.6 706.5L1842.0 706.1L1843.1 706.0L1844.2 707.5L1845.7 705.2L1847.0 706.4L1848.4 708.3L1849.6 706.3L1850.9 706.2L1852.0 707.6L1853.1 707.1L1854.7 706.0L1855.7 706.9L1856.6 706.5L1857.5 707.2L1858.9 705.8L1860.2 707.0L1861.2 706.9L1862.3 707.0L1863.3 706.5L1864.9 705.6L1866.0 707.7L1866.8 706.1L1867.8 704.3L1868.8 705.4L1870.3 705.0L1871.1 707.4L1872.3 707.2L1873.3 706.2L1874.1 706.9L1875.5 707.2L1876.5 706.1L1877.8 706.9L1879.2 706.2L1880.6 706.0L1882.2 706.2L1883.6 706.2L1885.2 706.2L1886.1 706.8L1887.3 707.3L1888.9 705.5L1889.8 705.7L1891.2 707.7L1892.3 706.0L1893.1 705.6L1894.3 707.5L1895.3 706.7L1896.5 705.7L1897.7 705.9L1898.5 707.3L1900.1 705.7L1900.9 705.2L1902.0 705.3L1902.9 706.5L1904.3 706.6L1905.2 706.6L1906.4 705.3L1907.7 704.9L1908.9 705.7L1910.0 706.1L1911.4 705.4L1912.8 706.2L1914.2 705.3L1915.8 705.4L1917.0 706.2L1918.6 706.1L1919.7 706.1L1921.1 706.1L1922.7 705.1L1923.6 706.0L1924.5 705.6L1925.4 706.9L1926.6 706.3L1927.6 706.7L1928.5 705.6L1929.4 705.7L1930.4 703.8L1931.2 706.0L1932.8 705.2L1934.0 705.3L1935.4 705.2L1936.6 704.9L1937.5 707.5L1938.8 706.9L1940.0 706.3L1941.5 706.8L1942.6 706.1L1944.1 706.9L1945.1 705.3L1946.1 705.6L1947.1 706.6L1948.0 705.7L1949.1 704.3L1950.7 705.9L1951.6 706.7L1953.1 706.1L1954.5 705.0L1956.0 705.4L1957.1 706.3L1958.7 706.2L1959.9 706.7L1961.1 703.8L1962.1 704.6L1963.6 704.4L1965.1 706.6L1966.0 707.3L1967.0 703.2L1967.9 707.3L1968.7 707.0L1970.2 706.2L1971.1 706.5L1972.0 705.2L1973.1 705.0L1974.6 704.9L1976.2 703.5L1977.0 705.4L1978.4 706.8L1979.2 704.6L1980.4 705.2L1981.2 708.0L1982.3 705.6L1983.8 706.0L1984.7 705.9L1985.8 705.8L1986.8 706.4L1988.2 704.7L1989.2 705.1L1990.4 705.8L1991.4 704.7L1993.0 706.2L1994.0 704.1L1994.9 705.0L1995.8 705.4L1997.0 704.1L1998.1 705.6L1998.9 704.5L2000.1 703.8L2001.4 704.0L2002.9 702.6L2004.2 704.3L2005.4 705.4L2006.9 704.2L2008.1 705.5L2009.0 705.0L2010.3 704.9L2011.8 704.8L2012.9 706.1L2013.9 705.0L2015.4 705.2L2016.8 705.0L2018.2 704.6L2019.2 704.1L2020.3 703.8L2021.9 706.2L2023.3 704.7L2024.5 702.2L2025.5 703.1L2026.8 704.6L2028.2 703.8L2029.3 703.4L2030.7 704.4L2031.7 703.8L2032.7 703.8L2034.0 704.4L2035.2 706.5L2036.5 703.5L2037.5 704.4L2038.4 705.5L2039.7 704.0L2040.9 704.7L2041.8 703.8L2043.3 703.2L2044.7 704.7L2046.3 704.6L2047.4 704.2L2048.8 704.6L2049.7 703.9L2050.7 705.0L2052.2 704.8L2053.4 703.9L2054.5 704.4L2056.1 703.9L2057.3 703.3L2058.7 704.3L2060.1 703.7L2061.2 703.6L2062.3 704.1L2063.3 704.1L2064.3 704.3L2065.6 704.7L2066.9 704.3L2068.0 703.8L2069.4 704.7L2070.3 702.9L2071.3 702.7L2072.4 704.4L2073.5 702.9L2074.3 703.2L2075.7 704.3L2076.7 702.9L2078.2 704.7L2079.3 703.1L2080.8 704.7L2081.8 705.4L2082.9 703.7L2084.2 703.8L2085.6 704.2L2086.7 702.9L2088.2 703.7L2089.6 705.0L2090.8 704.0L2092.0 704.3L2093.1 703.0L2094.7 702.8L2095.9 704.2L2097.3 703.1L2098.4 702.4L2099.3 703.2L2100.7 702.7L2102.1 704.2L2103.0 704.1L2104.4 704.0L2105.8 703.9L2107.1 704.9L2108.5 704.1L2109.6 704.9L2110.8 704.1L2112.0 705.2L2113.5 703.5L2114.5 703.0L2115.3 704.5L2116.8 703.4L2117.9 704.2L2118.9 704.2L2120.1 702.6L2121.2 704.2L2122.7 703.7L2124.2 703.9L2125.1 702.9L2126.0 702.6L2127.2 703.2L2128.3 702.6L2129.8 702.9L2130.7 704.3L2131.6 702.8L2132.6 702.4L2133.9 703.1L2135.0 703.0L2136.0 704.9L2137.4 703.6L2138.5 702.1L2140.1 701.5L2140.9 703.8L2142.1 703.0L2143.5 703.0L2144.4 702.7L2145.9 702.8L2147.2 703.5L2148.5 702.1L2149.9 702.9L2151.3 703.7L2152.3 703.6L2153.1 702.8L2154.0 703.5L2155.1 700.9L2156.5 702.9L2157.8 705.0L2158.7 704.3L2159.6 703.5L2161.1 702.8L2162.3 703.6L2163.4 702.4L2164.9 702.7L2166.0 703.2L2167.4 702.4L2169.0 702.7L2170.1 703.0L2171.4 703.0L2172.3 703.9L2173.4 702.7L2174.8 701.8L2175.7 703.0L2177.2 702.3L2178.8 703.8L2179.8 702.3L2180.9 702.7L2182.5 701.6L2183.3 700.9L2184.6 702.8L2185.9 703.1L2186.9 702.9L2188.4 703.0L2189.9 702.1L2190.8 700.7L2191.8 701.2L2193.4 702.4L2194.5 702.3L2195.6 702.5L2196.6 704.0L2198.0 702.4L2199.2 702.8L2200.1 701.0L2201.4 701.9L2202.6 703.5L2203.4 702.6L2204.7 703.2L2205.8 703.3L2206.9 702.1L2207.9 702.0L2209.4 701.6L2210.9 703.9L2212.1 702.7L2213.6 702.7L2214.5 701.3L2215.4 702.4L2216.6 703.0L2217.8 703.4L2218.9 702.7L2219.8 703.3L2220.7 702.5L2221.9 704.2L2223.4 704.6L2224.6 702.6L2226.1 701.2L2227.1 701.8L2228.5 702.8L2229.3 703.0L2230.4 701.7L2231.9 702.3L2232.8 701.8L2234.0 702.1L2235.5 702.3L2236.5 702.1L2237.8 702.7L2239.0 702.4L2240.4 702.7L2241.8 701.7L2243.0 702.5L2244.6 702.4L2245.7 702.1L2246.7 702.6L2248.1 702.2L2249.2 702.0L2250.1 702.6L2251.1 703.0L2252.7 704.0L2253.9 702.4L2255.1 702.8L2256.5 700.5L2257.8 702.8L2259.3 703.6L2260.7 703.6L2261.8 703.2L2262.7 703.7L2264.1 702.1L2265.0 703.4L2266.6 700.6L2267.9 703.2L2269.2 701.0L2270.4 703.1L2271.9 701.0L2272.9 703.5L2274.5 702.2L2275.4 704.0L2276.4 702.1L2277.8 702.5L2279.0 703.0L2280.0 700.5L2281.3 702.5L2282.7 701.2L2284.1 703.4L2285.5 704.0L2286.6 701.8L2287.5 701.4L2288.5 701.0L2289.8 703.2L2290.6 701.1L2291.8 702.9L2293.3 702.5L2294.4 701.6L2295.5 701.8L2296.4 701.4L2297.7 703.8L2298.8 703.0L2300.1 702.8L2301.3 701.6L2302.2 701.0L2303.5 704.0L2304.5 702.9L2305.5 703.2L2306.5 702.2L2308.0 701.0L2309.1 701.2L2310.3 703.5L2311.9 702.1L2312.8 702.7L2314.1 702.0L2314.9 703.4L2316.0 704.4L2317.5 702.4L2318.4 703.3L2319.6 703.1L2320.7 701.6L2322.2 703.5L2323.1 701.6L2324.4 700.3L2325.5 703.2L2326.8 701.8L2328.0 701.8L2329.4 703.3L2330.5 701.8L2332.0 704.0L2333.4 703.0L2334.6 701.0L2336.2 702.9L2337.5 702.4L2338.6 702.2L2339.5 704.2L2340.4 701.9L2341.7 702.2L2342.8 702.3L2344.2 702.0L2345.6 701.9L2346.6 701.5L2348.2 702.2L2349.5 702.9L2350.7 701.2L2352.2 702.1L2353.2 701.1L2354.2 700.9L2355.6 701.7L2356.7 703.1L2358.2 703.3L2359.1 702.4L2360.2 701.9L2361.0 702.2L2362.6 703.3L2364.2 702.7L2365.7 703.1L2366.7 702.0L2367.6 703.3L2368.6 701.7L2370.1 703.0L2371.1 703.0L2372.3 704.3L2373.8 701.4L2374.8 701.2L2375.8 702.5L2377.0 701.4L2378.3 702.4L2379.4 701.7L2381.0 701.7L2382.3 702.3L2383.3 702.5L2384.7 702.2L2386.0 701.1L2387.0 704.1L2388.0 703.4" fill="none" stroke="#008000" stroke-width="7.500000000000001" stroke-linejoin="bevel"/>
<path d="M220.8 859.5L220.8 672.8" fill="none" stroke="#008000" stroke-width="9.6" stroke-linejoin="round"/>
<polygon points="216.2,728.0 228.6,728.0 228.6,763.0 223.0,763.0 223.0,800.0 216.2,800.0" fill="#008000"/>
<path d="M217.2 857.0L217.2 1523.5L233.5 1523.5L237.0 1508.0L238.2 1501.0L239.1 1497.0L240.1 1493.0L241.1 1489.0L242.1 1485.0L243.1 1481.0L244.0 1477.0L245.1 1473.0L246.1 1469.0L247.1 1465.0L248.1 1461.0L249.1 1457.0L250.2 1453.0L251.2 1449.0L252.3 1445.0L253.3 1441.0L254.4 1437.0L255.5 1433.0L256.6 1429.0L257.7 1425.0L258.8 1421.0L259.9 1417.0L261.0 1413.0L262.1 1409.0L263.2 1405.0L264.4 1401.0L265.5 1397.0L266.7 1393.0L267.9 1389.0L269.0 1385.0L270.2 1381.0L271.4 1377.0L272.6 1373.0L273.8 1369.0L275.1 1365.0L276.3 1361.0L277.6 1357.0L278.8 1353.0L280.1 1349.0L281.4 1345.0L282.6 1341.0L283.9 1337.0L285.3 1333.0L286.6 1329.0L287.9 1325.0L289.3 1321.0L290.6 1317.0L292.0 1313.0L293.4 1309.0L294.8 1305.0L296.2 1301.0L297.6 1297.0L299.0 1293.0L300.5 1289.0L301.9 1285.0L303.4 1281.0L304.9 1277.0L306.4 1273.0L307.9 1269.0L309.4 1265.0L310.9 1261.0L312.5 1257.0L314.0 1253.0L315.6 1249.0L317.2 1245.0L318.8 1241.0L320.5 1237.0L322.1 1233.0L323.7 1229.0L325.4 1225.0L327.1 1221.0L328.8 1217.0L330.5 1213.0L332.3 1209.0L334.0 1205.0L335.8 1201.0L337.6 1197.0L339.4 1193.0L341.2 1189.0L343.0 1185.0L344.9 1181.0L346.8 1177.0L348.7 1173.0L350.6 1169.0L352.5 1165.0L354.4 1161.0L356.4 1157.0L358.4 1153.0L360.4 1149.0L362.4 1145.0L364.5 1141.0L366.5 1137.0L368.6 1133.0L370.7 1129.0L372.9 1125.0L375.0 1121.0L377.2 1117.0L379.4 1113.0L381.6 1109.0L383.8 1105.0L386.1 1101.0L388.4 1097.0L390.7 1093.0L396.5 1058.0L402.6 1051.0L417.4 1036.1L430.9 1018.7L446.0 1002.0L461.3 985.6L476.0 969.5L484.8 953.5L486.0 927.0L503.8 919.0L517.6 910.0L535.5 892.6L551.4 882.0L573.1 868.5L577.0 860.0L590.0 859.5" fill="none" stroke="#ff0000" stroke-width="8.3" stroke-linejoin="round" stroke-dasharray="44.8 16 11.2 16"/>
<path d="M590.0 859.8L885.0 859.8" fill="none" stroke="#ff0000" stroke-width="8.3" stroke-linejoin="round" stroke-dasharray="44.8 16 11.2 16" stroke-dashoffset="0.0"/>
<path d="M1800.0 859.8L2390.0 859.8" fill="none" stroke="#ff0000" stroke-width="8.3" stroke-linejoin="round" stroke-dasharray="44.8 16 11.2 16" stroke-dashoffset="77.9"/>
<path d="M891.5 865.0L893.0 872.0" fill="none" stroke="#ff0000" stroke-width="8.3" stroke-linejoin="round"/>
<path d="M898.5 879.5L909.5 883.5" fill="none" stroke="#ff0000" stroke-width="8.3" stroke-linejoin="round"/>
<path d="M926.0 883.0L938.0 883.0L938.0 866.0" fill="none" stroke="#ff0000" stroke-width="8.3" stroke-linejoin="round"/>
<path d="M952.0 866.0L965.0 868.0" fill="none" stroke="#ff0000" stroke-width="8.3" stroke-linejoin="round"/>
<path d="M983.0 866.0L984.0 880.0L989.0 888.0L1004.0 891.0" fill="none" stroke="#ff0000" stroke-width="8.3" stroke-linejoin="round"/>
<path d="M1005.5 902.0L1011.0 903.5" fill="none" stroke="#ff0000" stroke-width="8.3" stroke-linejoin="round"/>
<rect x="1024.6" y="888.0" width="7.4" height="16.5" fill="none" stroke="#ff0000" stroke-width="1.6"/>
<path d="M1028.5 906.0L1033.0 915.0" fill="none" stroke="#ff0000" stroke-width="8.3" stroke-linejoin="round"/>
<path d="M1054.5 910.5L1064.0 915.5" fill="none" stroke="#ff0000" stroke-width="8.3" stroke-linejoin="round"/>
<path d="M1067.0 929.0L1070.4 973.8" fill="none" stroke="#ff0000" stroke-width="8.3" stroke-linejoin="round"/>
<path d="M1074.5 988.0L1081.5 999.0" fill="none" stroke="#ff0000" stroke-width="8.3" stroke-linejoin="round"/>
<path d="M1089.5 995.0L1088.0 1007.0" fill="none" stroke="#ff0000" stroke-width="8.3" stroke-linejoin="round"/>
<path d="M1086.0 1013.5L1087.0 1023.0" fill="none" stroke="#ff0000" stroke-width="8.3" stroke-linejoin="round"/>
<rect x="1083.3" y="1023.0" width="8.4" height="17.0" fill="none" stroke="#ff0000" stroke-width="1.6"/>
<path d="M1091.5 994.0L1103.2 980.6L1117.5 973.5L1124.0 974.0" fill="none" stroke="#ff0000" stroke-width="8.3" stroke-linejoin="round"/>
<rect x="1115.5" y="964.5" width="8.0" height="14.5" fill="none" stroke="#ff0000" stroke-width="1.6"/>
<path d="M1137.2 969.0L1162.2 962.7L1166.0 968.0L1174.7 973.5" fill="none" stroke="#ff0000" stroke-width="8.3" stroke-linejoin="round"/>
<path d="M1190.0 970.3L1201.5 970.3" fill="none" stroke="#ff0000" stroke-width="8.3" stroke-linejoin="round"/>
<path d="M1208.3 959.5L1208.3 950.0L1213.0 948.4L1241.9 948.4" fill="none" stroke="#ff0000" stroke-width="8.3" stroke-linejoin="round"/>
<path d="M1257.0 948.8L1268.7 948.8" fill="none" stroke="#ff0000" stroke-width="8.3" stroke-linejoin="round"/>
<path d="M1284.3 949.3L1324.2 950.3" fill="none" stroke="#ff0000" stroke-width="8.3" stroke-linejoin="round"/>
<path d="M1339.4 951.1L1351.0 951.1" fill="none" stroke="#ff0000" stroke-width="8.3" stroke-linejoin="round"/>
<path d="M1366.3 952.0L1388.6 952.0L1394.9 933.2" fill="none" stroke="#ff0000" stroke-width="8.3" stroke-linejoin="round"/>
<path d="M1411.5 940.4L1423.5 940.4" fill="none" stroke="#ff0000" stroke-width="8.3" stroke-linejoin="round"/>
<path d="M1437.3 942.2L1483.5 944.8" fill="none" stroke="#ff0000" stroke-width="8.3" stroke-linejoin="round"/>
<path d="M1476.5 958.6L1488.0 958.6" fill="none" stroke="#ff0000" stroke-width="8.3" stroke-linejoin="round"/>
<path d="M1502.3 959.2L1547.0 964.5" fill="none" stroke="#ff0000" stroke-width="8.3" stroke-linejoin="round"/>
<path d="M1561.3 969.0L1576.5 961.8L1610.5 977.1" fill="none" stroke="#ff0000" stroke-width="8.3" stroke-linejoin="round"/>
<path d="M1612.5 972.6L1624.5 972.6" fill="none" stroke="#ff0000" stroke-width="8.3" stroke-linejoin="round"/>
<path d="M1630.2 987.8L1635.6 1007.5L1638.5 1040.0L1640.0 1069.5" fill="none" stroke="#ff0000" stroke-width="8.3" stroke-linejoin="round"/>
<path d="M1639.5 1001.0L1645.5 1001.0" fill="none" stroke="#ff0000" stroke-width="8.3" stroke-linejoin="round"/>
<rect x="1638.3" y="965.5" width="7.7" height="16.5" fill="none" stroke="#ff0000" stroke-width="1.6"/>
<rect x="1657.2" y="970.0" width="7.6" height="19.5" fill="none" stroke="#ff0000" stroke-width="1.6"/>
<path d="M1648.5 967.0L1664.5 967.0" fill="none" stroke="#ff0000" stroke-width="8.3" stroke-linejoin="round"/>
<path d="M1670.5 960.0L1682.0 952.5" fill="none" stroke="#ff0000" stroke-width="8.3" stroke-linejoin="round"/>
<path d="M1693.7 944.8L1706.3 939.5L1706.3 921.6" fill="none" stroke="#ff0000" stroke-width="8.3" stroke-linejoin="round"/>
<path d="M1708.5 911.0L1721.0 910.0" fill="none" stroke="#ff0000" stroke-width="8.3" stroke-linejoin="round"/>
<path d="M1735.3 904.6L1751.9 901.9L1751.9 930.5" fill="none" stroke="#ff0000" stroke-width="8.3" stroke-linejoin="round"/>
<path d="M1755.5 898.3L1799.0 890.9" fill="none" stroke="#ff0000" stroke-width="8.3" stroke-linejoin="round"/>
<path d="M1793.0 870.0L1800.5 870.0" fill="none" stroke="#ff0000" stroke-width="8.3" stroke-linejoin="round"/>
<path d="M220.6 860.0L1304.2 860.0L1310.0 849.0L1318.0 837.0L1322.0 834.5L1360.0 834.0L1400.0 832.5L1440.0 830.5L1477.0 829.1L1485.9 829.0L1496.0 833.0L1507.4 839.0L1571.8 839.0L1589.7 857.5L1593.0 860.0L1932.4 860.0L1952.1 839.0L2020.1 838.0L2030.0 824.0L2041.6 808.5L2055.0 807.5L2070.0 808.5L2086.3 809.4L2104.2 804.5L2112.0 805.5L2118.5 809.5L2125.0 820.0L2134.7 834.5L2200.9 834.5L2212.0 838.5L2299.9 838.5L2314.2 860.0L2384.5 860.0" fill="none" stroke="#0072bd" stroke-width="11.6" stroke-linejoin="round"/>
<path d="M224.0 861.0L240.0 861.0" fill="none" stroke="#b03000" stroke-width="11.3" stroke-linejoin="round"/>
<path d="M243.0 848.0L266.0 846.5" fill="none" stroke="#b03000" stroke-width="11.3" stroke-linejoin="round"/>
<path d="M309.2 847.5L325.3 839.0L351.2 839.0" fill="none" stroke="#b03000" stroke-width="11.3" stroke-linejoin="round"/>
<path d="M394.2 838.0L413.9 858.6L430.0 860.0" fill="none" stroke="#b03000" stroke-width="11.3" stroke-linejoin="round"/>
<path d="M472.9 860.1L518.0 860.1" fill="none" stroke="#b03000" stroke-width="11.3" stroke-linejoin="round"/>
<path d="M561.0 860.0L579.4 856.8L592.0 849.7L602.7 849.7" fill="none" stroke="#b03000" stroke-width="11.3" stroke-linejoin="round"/>
<path d="M646.2 848.8L668.0 848.8L683.2 831.8" fill="none" stroke="#b03000" stroke-width="11.3" stroke-linejoin="round"/>
<path d="M725.3 829.1L752.0 829.1L768.2 822.0" fill="none" stroke="#b03000" stroke-width="11.3" stroke-linejoin="round"/>
<path d="M811.2 822.3L857.7 822.3" fill="none" stroke="#b03000" stroke-width="11.3" stroke-linejoin="round"/>
<path d="M881.9 848.8L926.6 848.8" fill="none" stroke="#b03000" stroke-width="11.3" stroke-linejoin="round"/>
<path d="M966.0 857.5L1010.0 857.5" fill="none" stroke="#b03000" stroke-width="11.3" stroke-linejoin="round"/>
<path d="M1039.4 881.0L1050.0 901.6L1068.0 901.2" fill="none" stroke="#b03000" stroke-width="11.3" stroke-linejoin="round"/>
<path d="M1111.0 901.3L1154.0 901.3" fill="none" stroke="#b03000" stroke-width="11.3" stroke-linejoin="round"/>
<path d="M1196.3 901.2L1210.3 901.2L1222.0 873.0" fill="none" stroke="#b03000" stroke-width="11.3" stroke-linejoin="round"/>
<path d="M1256.0 859.5L1302.0 859.5" fill="none" stroke="#b03000" stroke-width="11.3" stroke-linejoin="round"/>
<path d="M1315.9 901.7L1362.5 901.7" fill="none" stroke="#b03000" stroke-width="11.3" stroke-linejoin="round"/>
<path d="M1397.6 892.0L1438.7 892.0" fill="none" stroke="#b03000" stroke-width="11.3" stroke-linejoin="round"/>
<path d="M1475.4 892.0L1497.8 878.6L1517.5 876.0" fill="none" stroke="#b03000" stroke-width="11.3" stroke-linejoin="round"/>
<path d="M1553.6 878.5L1596.5 884.8" fill="none" stroke="#b03000" stroke-width="11.3" stroke-linejoin="round"/>
<path d="M1639.5 885.0L1663.6 885.0L1681.5 875.0" fill="none" stroke="#b03000" stroke-width="11.3" stroke-linejoin="round"/>
<path d="M1722.3 874.0L1751.4 874.0L1765.6 867.8" fill="none" stroke="#b03000" stroke-width="11.3" stroke-linejoin="round"/>
<path d="M1805.0 859.5L1848.0 859.5" fill="none" stroke="#b03000" stroke-width="11.3" stroke-linejoin="round"/>
<path d="M1878.2 881.0L1922.9 881.0" fill="none" stroke="#b03000" stroke-width="11.3" stroke-linejoin="round"/>
<path d="M1958.4 890.9L2002.2 890.9" fill="none" stroke="#b03000" stroke-width="11.3" stroke-linejoin="round"/>
<path d="M2040.0 910.5L2074.2 910.5" fill="none" stroke="#b03000" stroke-width="11.3" stroke-linejoin="round"/>
<path d="M2097.0 913.2L2137.6 913.2" fill="none" stroke="#b03000" stroke-width="11.3" stroke-linejoin="round"/>
<path d="M2175.7 911.8L2200.3 910.5L2209.3 894.4" fill="none" stroke="#b03000" stroke-width="11.3" stroke-linejoin="round"/>
<path d="M2226.5 859.5L2270.4 859.5" fill="none" stroke="#b03000" stroke-width="11.3" stroke-linejoin="round"/>
<path d="M2307.0 846.1L2317.8 839.0L2346.1 839.0" fill="none" stroke="#b03000" stroke-width="11.3" stroke-linejoin="round"/>
<rect x="227.0" y="847.0" width="9.0" height="10.0" fill="none" stroke="#b03000" stroke-width="1.6"/>
<path d="M216.5 859.0L217.5 965.0L219.0 973.0L224.0 972.0L229.0 963.6L392.0 963.6L396.9 950.0L399.0 895.0L402.5 888.5L406.5 891.0L410.0 901.2L846.0 901.2L849.6 880.0L851.5 856.0L854.5 851.0L858.0 853.5L861.0 859.0L1025.0 859.0L1029.5 845.0L1031.5 813.0L1035.0 809.5L1038.5 812.0L1043.0 818.0L1209.0 818.0L1211.2 825.0L1214.0 866.0L1216.5 869.5L1219.5 866.0L1222.5 859.0L1297.0 859.0L1301.5 845.0L1303.5 813.0L1307.0 809.0L1310.5 812.0L1315.0 818.0L1480.0 818.0L1482.3 825.0L1485.0 866.0L1487.5 869.0L1490.5 866.0L1493.5 859.5L1839.0 859.5L1843.0 845.0L1845.0 768.0L1848.5 762.0L1852.0 766.0L1856.5 777.2L2201.5 777.2L2204.2 785.0L2207.0 870.0L2210.0 876.0L2213.0 871.0L2216.5 859.5L2291.0 859.5L2293.6 868.0L2296.5 929.0L2300.0 934.5L2303.5 929.0L2307.5 921.8L2384.5 921.8" fill="none" stroke="#006666" stroke-width="9.8" stroke-linejoin="round"/>
</g>
<g id="ann">
<line x1="419.5" y1="324.2" x2="353.2" y2="387.0" stroke="#000" stroke-width="8.0"/><polygon points="319.8,418.6 352.2,358.3 356.1,384.2 381.8,389.5" fill="#000"/>
<line x1="996.2" y1="318.7" x2="1068.8" y2="386.3" stroke="#000" stroke-width="8.0"/><polygon points="1102.5,417.6 1040.3,389.1 1065.9,383.5 1069.6,357.6" fill="#000"/>
<line x1="1932.3" y1="357.5" x2="1999.0" y2="420.0" stroke="#000" stroke-width="8.0"/><polygon points="2032.5,451.5 1970.4,422.7 1996.0,417.3 1999.8,391.3" fill="#000"/>
<line x1="1461.3" y1="641.3" x2="1527.0" y2="703.2" stroke="#000" stroke-width="8.0"/><polygon points="1560.5,734.8 1498.5,705.9 1524.1,700.5 1527.9,674.6" fill="#000"/>
<line x1="2083.0" y1="615.0" x2="2126.6" y2="702.1" stroke="#000" stroke-width="8.0"/><polygon points="2147.2,743.2 2098.9,694.7 2124.8,698.5 2137.3,675.5" fill="#000"/>
<line x1="598.2" y1="932.0" x2="572.2" y2="822.1" stroke="#000" stroke-width="8.0"/><polygon points="561.6,777.3 597.5,835.6 573.1,826.0 555.6,845.5" fill="#000"/>
<line x1="280.9" y1="1058.1" x2="293.5" y2="990.6" stroke="#000" stroke-width="8.0"/><polygon points="302.0,945.4 311.2,1013.2 292.8,994.5 268.9,1005.3" fill="#000"/>
<line x1="1335.3" y1="998.2" x2="1350.1" y2="864.1" stroke="#000" stroke-width="8.0"/><polygon points="1355.2,818.4 1369.4,885.4 1349.7,868.1 1326.7,880.6" fill="#000"/>
<line x1="455.9" y1="1156.5" x2="420.2" y2="1095.7" stroke="#000" stroke-width="8.0"/><polygon points="396.9,1056.0 448.3,1101.2 422.2,1099.1 411.3,1122.9" fill="#000"/>
<line x1="1964.6" y1="989.1" x2="1998.4" y2="946.6" stroke="#000" stroke-width="6.2"/><polygon points="2041.9,891.8 2027.5,937.3 2022.0,916.9 2000.8,916.1" fill="#000"/>
<text x="450.8" y="283.8" fill="#000" font-size="61">P<tspan dy="27.8" dx="5.5" font-size="44" letter-spacing="0">SC</tspan></text>
<text x="895.0" y="277.8" fill="#000" font-size="61">P<tspan dy="27.8" dx="5.5" font-size="44" letter-spacing="-2.6">PV</tspan></text>
<text x="1802.0" y="317.8" fill="#000" font-size="61">P<tspan dy="27.8" dx="5.5" font-size="44" letter-spacing="-0.9">Load</tspan></text>
<text x="1324.3" y="602.3" fill="#000" font-size="61">P<tspan dy="27.8" dx="5.5" font-size="44" letter-spacing="0">Wind</tspan></text>
<text x="2021.0" y="575.0" fill="#000" font-size="61">P<tspan dy="27.8" dx="5.5" font-size="44" letter-spacing="0">SOFC</tspan></text>
<text x="561.4" y="991.9" fill="#000" font-size="61">P<tspan dy="27.8" dx="5.5" font-size="44" letter-spacing="0">Bat</tspan></text>
<text x="248.2" y="1118.4" fill="#000" font-size="61">P<tspan dy="27.8" dx="5.5" font-size="44" letter-spacing="0">CS</tspan></text>
<text x="1296.3" y="1057.6" fill="#000" font-size="61">P<tspan dy="27.8" dx="5.5" font-size="44" letter-spacing="0">MT</tspan></text>
<text x="484.4" y="1216.5" fill="#000" font-size="61">P<tspan dy="27.8" dx="5.5" font-size="44" letter-spacing="0">Elz</tspan></text>
<text x="1845.3" y="1052.9" fill="#000" font-size="61">P<tspan dy="27.8" dx="5.5" font-size="44" letter-spacing="-0.6">Grid</tspan></text>
</g>
<g id="labels">
<text transform="translate(214.1,1589.9) scale(0.94,1)" text-anchor="middle" fill="#222222" font-size="61">0</text>
<text transform="translate(575.6,1589.9) scale(0.94,1)" text-anchor="middle" fill="#222222" font-size="61">4</text>
<text transform="translate(937.1,1589.9) scale(0.94,1)" text-anchor="middle" fill="#222222" font-size="61">8</text>
<text transform="translate(1298.7,1589.9) scale(0.94,1)" text-anchor="middle" fill="#222222" font-size="61">12</text>
<text transform="translate(1660.2,1589.9) scale(0.94,1)" text-anchor="middle" fill="#222222" font-size="61">16</text>
<text transform="translate(2021.7,1589.9) scale(0.94,1)" text-anchor="middle" fill="#222222" font-size="61">20</text>
<text transform="translate(2383.2,1589.9) scale(0.94,1)" text-anchor="middle" fill="#222222" font-size="61">24</text>
<text transform="translate(184,1504.6) scale(0.94,1)" text-anchor="end" fill="#222222" font-size="61">-3</text>
<text transform="translate(184,1297.1) scale(0.94,1)" text-anchor="end" fill="#222222" font-size="61">-2</text>
<text transform="translate(184,1089.6) scale(0.94,1)" text-anchor="end" fill="#222222" font-size="61">-1</text>
<text transform="translate(184,882.1) scale(0.94,1)" text-anchor="end" fill="#222222" font-size="61">0</text>
<text transform="translate(184,674.6) scale(0.94,1)" text-anchor="end" fill="#222222" font-size="61">1</text>
<text transform="translate(184,467.1) scale(0.94,1)" text-anchor="end" fill="#222222" font-size="61">2</text>
<text transform="translate(184,259.6) scale(0.94,1)" text-anchor="end" fill="#222222" font-size="61">3</text>
<text x="1296.5" y="1673.3" text-anchor="middle" fill="#222222" font-size="61" clip-path="url(#cx)">t (hrs)</text>
<text transform="translate(73,788) rotate(-90)" text-anchor="middle" fill="#3c3c3c" font-size="61">P<tspan dy="27.8" dx="5" font-size="44">All</tspan><tspan dy="-27.8" font-size="61"> (kW)</tspan></text>
<text x="216.7" y="85" fill="#222222" font-size="77.5">×</text>
<text x="264.7" y="75" fill="#222222" font-size="61">10</text>
<text x="323.5" y="47.8" fill="#222222" font-size="44.5">5</text>
</g>
</svg>
</body></html>
